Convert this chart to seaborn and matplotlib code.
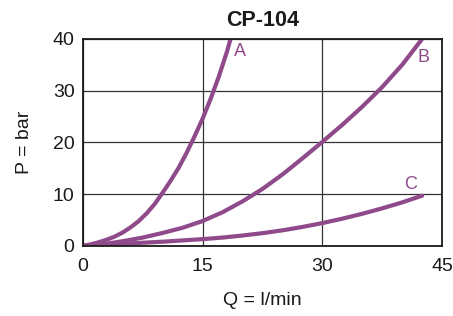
import numpy as np
import pandas as pd
import seaborn as sns
import matplotlib
matplotlib.use("Agg")
import matplotlib.pyplot as plt

# values (Q in l/min, P in bar)
q_a = [0, 1, 2, 3, 4, 5, 6, 7, 8, 9, 10, 11, 12, 13, 14, 15, 16, 17, 18, 18.5]
p_a = [0, 0.3, 0.7, 1.2, 1.8, 2.6, 3.6, 4.8, 6.3, 8.1, 10.3, 12.6, 15.1, 18.0,
       21.2, 24.6, 28.4, 32.6, 37.3, 40]

q_b = [0, 2.5, 5, 7.5, 10, 12.5, 15, 17.5, 20, 22.5, 25, 27.5, 30, 32.5, 35,
       37.5, 40, 42.5]
p_b = [0, 0.3, 0.9, 1.6, 2.5, 3.5, 4.8, 6.5, 8.6, 11.0, 13.8, 16.9, 20.1, 23.4,
       26.9, 30.7, 35.0, 40]

q_c = [0, 2.5, 5, 7.5, 10, 12.5, 15, 17.5, 20, 22.5, 25, 27.5, 30, 32.5, 35,
       37.5, 40, 42.5]
p_c = [0, 0.2, 0.4, 0.6, 0.8, 1.05, 1.3, 1.6, 2.0, 2.45, 3.0, 3.65, 4.4, 5.25,
       6.2, 7.25, 8.4, 9.7]

curve_names = ["A", "B", "C"]
x_ticks = [0, 15, 30, 45]
y_ticks = [0, 10, 20, 30, 40]

df = pd.concat([
    pd.DataFrame({"Q": q_a, "P": p_a, "curve": "A"}),
    pd.DataFrame({"Q": q_b, "P": p_b, "curve": "B"}),
    pd.DataFrame({"Q": q_c, "P": p_c, "curve": "C"}),
])

sns.set_style("white")
plt.rcParams['font.family'] = ['Liberation Sans', 'DejaVu Sans']
plt.rcParams['lines.solid_joinstyle'] = 'round'

purple = "#8e4a8a"
ink = "#1a1a1a"

fig = plt.figure(figsize=(4.53, 3.16), dpi=100)
ax = fig.add_axes([0.183, 0.222, 0.793, 0.655])

sns.lineplot(data=df, x="Q", y="P", hue="curve", palette=[purple] * 3,
             linewidth=3, legend=False, sort=False, ax=ax,
             solid_capstyle="round")

ax.set_xlim(0, 45)
ax.set_ylim(0, 40)
ax.set_xticks(x_ticks)
ax.set_yticks(y_ticks)
ax.tick_params(axis="x", length=0, labelsize=14, pad=9, colors=ink)
ax.tick_params(axis="y", length=0, labelsize=14, pad=6, colors=ink)
ax.grid(True, color="#333333", linewidth=0.9)
for s in ax.spines.values():
    s.set_color(ink)
    s.set_linewidth(1.3)

# curve labels
ends = {"A": (q_a[-1], p_a[-1]), "B": (q_b[-1], p_b[-1]), "C": (q_c[-1], p_c[-1])}
offsets = {"A": (1.2, -2.5), "B": (0.2, -3.6), "C": (-1.4, 2.1)}
for name in curve_names:
    x, y = ends[name]
    dx, dy = offsets[name]
    ax.text(x + dx, y + dy, name, color=purple, fontsize=13, ha="center", va="center")

ax.set_title("CP-104", fontsize=15.5, fontweight="bold", pad=9, color=ink)
ax.set_xlabel("Q = l/min", fontsize=14, labelpad=12, color=ink)
ax.set_ylabel("P = bar", fontsize=14, labelpad=14, color=ink)

fig.savefig("out.png", dpi=100)
